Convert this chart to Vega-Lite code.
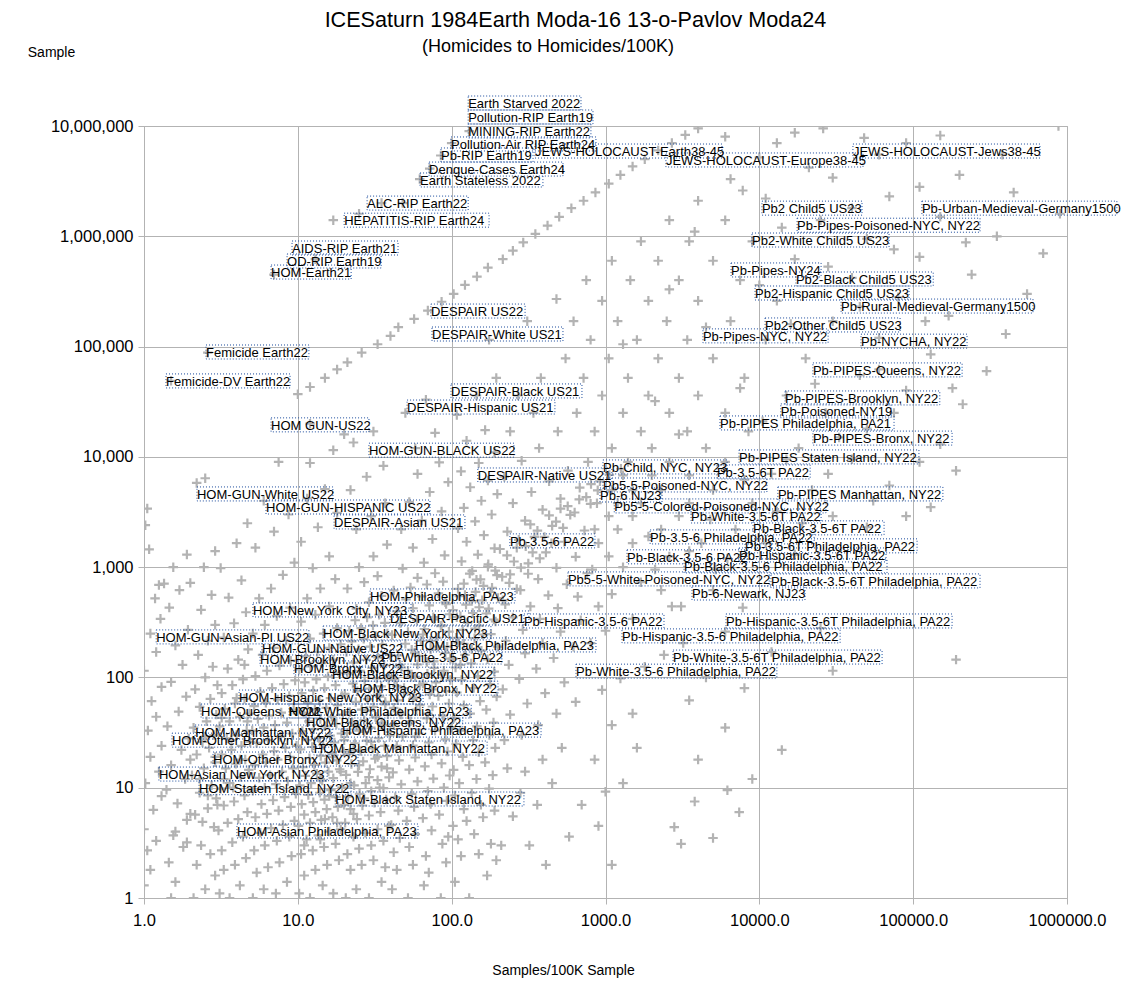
{"$schema":"https://vega.github.io/schema/vega-lite/v6.json","width":923,"height":772,"autosize":{"type":"none"},"padding":{"left":144,"top":126,"right":77,"bottom":93},"background":"white","config":{"view":{"stroke":"#b3b3b3"}},
"title":{"text":"ICESaturn 1984Earth Moda-16 13-o-Pavlov Moda24","anchor":"middle","frame":"group","dx":-30,"offset":6,"font":"Liberation Sans","fontSize":21.6,"fontWeight":"normal","color":"black"},
"datasets":{"sub":[{"label":"(Homicides to Homicides/100K)","x":423,"y":52000000}],"pts":[
{"x":1,"y":1.3},{"x":1.1,"y":1.8},{"x":1.05,"y":2.7},{"x":1.2,"y":3.3},{"x":1,"y":4.2},{"x":1.15,"y":6.3},{"x":1.3,"y":8.4},{"x":1.02,"y":11},{"x":1.25,"y":14},{"x":1.1,"y":19},{"x":1.3,"y":24},{"x":1.06,"y":33},{"x":1.2,"y":44},{"x":1.12,"y":61},{"x":1.3,"y":82},{"x":1,"y":115},{"x":1.2,"y":170},{"x":1.1,"y":250},{"x":1.28,"y":340},{"x":1.18,"y":520},{"x":1.25,"y":690},{"x":1.35,"y":710},{"x":1.02,"y":2400},{"x":1.05,"y":3400},{"x":1.08,"y":1450},
{"x":1.5,"y":1},{"x":1.6,"y":1.4},{"x":1.45,"y":2.1},{"x":1.8,"y":2.9},{"x":1.55,"y":3.7},{"x":1.9,"y":5.1},{"x":1.65,"y":7.2},{"x":1.4,"y":9.6},{"x":1.85,"y":12},{"x":1.5,"y":16},{"x":1.75,"y":22},{"x":1.95,"y":28},{"x":1.42,"y":36},{"x":1.68,"y":49},{"x":1.88,"y":67},{"x":1.5,"y":91},{"x":1.78,"y":130},{"x":1.6,"y":195},{"x":1.93,"y":270},{"x":1.46,"y":430},{"x":1.7,"y":620},{"x":1.55,"y":1000},{"x":1.9,"y":1300},{"x":2,"y":720},
{"x":2.1,"y":1},{"x":2.5,"y":1.2},{"x":2.9,"y":1.6},{"x":2.2,"y":2},{"x":2.7,"y":2.5},{"x":2.35,"y":3},{"x":2.85,"y":4.4},{"x":2.15,"y":5.7},{"x":2.6,"y":6.5},{"x":2.95,"y":8},{"x":2.3,"y":9},{"x":2.75,"y":10.5},{"x":2.05,"y":13},{"x":2.45,"y":15},{"x":2.9,"y":17},{"x":2.2,"y":20},{"x":2.65,"y":23},{"x":2.4,"y":26},{"x":2.85,"y":30},{"x":2.1,"y":35},{"x":2.55,"y":40},{"x":2.95,"y":46},{"x":2.3,"y":54},{"x":2.7,"y":64},{"x":2.15,"y":78},{"x":2.5,"y":100},{"x":2.8,"y":125},{"x":2.25,"y":160},{"x":2.6,"y":215},{"x":2.9,"y":300},{"x":2.35,"y":410},{"x":2.75,"y":560},{"x":2.45,"y":1000},{"x":2.9,"y":1400},{"x":2.2,"y":5800},{"x":2.5,"y":6400},
{"x":3.1,"y":1.1},{"x":3.6,"y":1},{"x":4.2,"y":1.3},{"x":3.3,"y":1.8},{"x":3.9,"y":2},{"x":4.6,"y":2.3},{"x":3.2,"y":2.7},{"x":3.75,"y":3.2},{"x":4.4,"y":3.6},{"x":3.05,"y":4.1},{"x":3.5,"y":4.8},{"x":4.1,"y":5.2},{"x":4.7,"y":6},{"x":3.3,"y":6.9},{"x":3.85,"y":7.5},{"x":4.5,"y":8.5},{"x":3.15,"y":9.8},{"x":3.6,"y":11},{"x":4.25,"y":12.5},{"x":4.8,"y":13.5},{"x":3.4,"y":15},{"x":3.95,"y":16.5},{"x":4.55,"y":18},{"x":3.2,"y":20},{"x":3.7,"y":22},{"x":4.3,"y":24},{"x":4.9,"y":26},{"x":3.45,"y":28},{"x":4,"y":30},{"x":4.65,"y":33},{"x":3.1,"y":36},{"x":3.6,"y":40},{"x":4.2,"y":44},{"x":4.85,"y":47},{"x":3.35,"y":52},{"x":3.9,"y":58},{"x":4.5,"y":64},{"x":3.2,"y":72},{"x":3.75,"y":85},{"x":4.4,"y":96},{"x":3.5,"y":120},{"x":4.1,"y":145},{"x":4.75,"y":180},{"x":3.3,"y":230},{"x":3.85,"y":310},{"x":4.6,"y":390},{"x":3.55,"y":530},{"x":4.3,"y":760},{"x":3.15,"y":980},{"x":4,"y":1650},{"x":4.7,"y":2500},
{"x":5.1,"y":1},{"x":6,"y":1.2},{"x":7.2,"y":1.1},{"x":8.5,"y":1.4},{"x":5.4,"y":1.7},{"x":6.4,"y":1.9},{"x":7.6,"y":2.1},{"x":9.1,"y":2.4},{"x":5.2,"y":2.7},{"x":6.1,"y":3},{"x":7.3,"y":3.3},{"x":8.8,"y":3.6},{"x":5.7,"y":3.9},{"x":6.7,"y":4.3},{"x":8,"y":4.6},{"x":9.5,"y":5},{"x":5.3,"y":5.4},{"x":6.3,"y":5.8},{"x":7.5,"y":6.2},{"x":9,"y":6.7},{"x":5.8,"y":7.1},{"x":6.9,"y":7.7},{"x":8.2,"y":8.2},{"x":9.7,"y":8.8},{"x":5.1,"y":9.4},{"x":6.1,"y":10},{"x":7.2,"y":10.8},{"x":8.6,"y":11.5},{"x":5.6,"y":12.3},{"x":6.6,"y":13},{"x":7.9,"y":14},{"x":9.3,"y":15},{"x":5.25,"y":16},{"x":6.2,"y":17},{"x":7.4,"y":18},{"x":8.9,"y":19},{"x":5.9,"y":20},{"x":7,"y":21.5},{"x":8.3,"y":23},{"x":9.8,"y":24},{"x":5.4,"y":25.5},{"x":6.4,"y":27},{"x":7.7,"y":29},{"x":9.2,"y":31},{"x":5.05,"y":33},{"x":6,"y":35},{"x":7.1,"y":37},{"x":8.5,"y":39},{"x":5.5,"y":42},{"x":6.5,"y":45},{"x":7.8,"y":48},{"x":9.4,"y":51},{"x":5.2,"y":55},{"x":6.2,"y":59},{"x":7.4,"y":63},{"x":8.8,"y":68},{"x":5.7,"y":74},{"x":6.8,"y":80},{"x":8.1,"y":87},{"x":9.6,"y":94},{"x":5.3,"y":103},{"x":6.3,"y":115},{"x":7.6,"y":128},{"x":9,"y":142},{"x":5.9,"y":160},{"x":7,"y":185},{"x":8.4,"y":215},{"x":5.1,"y":250},{"x":6.1,"y":300},{"x":7.3,"y":360},{"x":8.9,"y":430},{"x":5.6,"y":520},{"x":6.7,"y":640},{"x":8,"y":850},{"x":9.5,"y":1100},{"x":5.3,"y":1500},{"x":7,"y":2100},{"x":8.7,"y":3000},{"x":6,"y":4000},{"x":7.5,"y":9000},
{"x":10.2,"y":1.1},{"x":12,"y":1},{"x":14.5,"y":1.3},{"x":17,"y":1.1},{"x":11,"y":1.6},{"x":13,"y":1.8},{"x":15.5,"y":2},{"x":18.5,"y":2.2},{"x":10.5,"y":2.5},{"x":12.5,"y":2.7},{"x":14.8,"y":2.9},{"x":17.6,"y":3.1},{"x":11.4,"y":3.4},{"x":13.6,"y":3.7},{"x":16,"y":4},{"x":19,"y":4.2},{"x":10.1,"y":4.5},{"x":12,"y":4.8},{"x":14.2,"y":5.1},{"x":16.8,"y":5.4},{"x":11,"y":5.7},{"x":13,"y":6},{"x":15.4,"y":6.4},{"x":18.2,"y":6.7},{"x":10.6,"y":7.1},{"x":12.6,"y":7.4},{"x":14.9,"y":7.8},{"x":17.7,"y":8.2},{"x":11.7,"y":8.6},{"x":13.9,"y":9},{"x":16.4,"y":9.5},{"x":19.4,"y":10},{"x":10.3,"y":10.5},{"x":12.2,"y":11},{"x":14.4,"y":11.6},{"x":17,"y":12.2},{"x":11.2,"y":12.8},{"x":13.3,"y":13.4},{"x":15.8,"y":14},{"x":18.7,"y":14.7},{"x":10.8,"y":15.4},{"x":12.8,"y":16.1},{"x":15.1,"y":16.9},{"x":17.9,"y":17.7},{"x":11.9,"y":18.5},{"x":14.1,"y":19.4},{"x":16.7,"y":20.3},{"x":19.8,"y":21.3},{"x":10.4,"y":22.3},{"x":12.4,"y":23.4},{"x":14.6,"y":24.5},{"x":17.3,"y":25.7},{"x":11.5,"y":27},{"x":13.7,"y":28.3},{"x":16.2,"y":29.7},{"x":19.2,"y":31},{"x":10.7,"y":32.6},{"x":12.7,"y":34},{"x":15,"y":36},{"x":17.8,"y":38},{"x":11.8,"y":40},{"x":14,"y":42},{"x":16.6,"y":44},{"x":19.6,"y":46},{"x":10.9,"y":48},{"x":12.9,"y":51},{"x":15.3,"y":53},{"x":18.1,"y":56},{"x":11.6,"y":59},{"x":13.8,"y":62},{"x":16.3,"y":65},{"x":19.3,"y":68},{"x":10.6,"y":72},{"x":12.6,"y":76},{"x":14.9,"y":80},{"x":17.6,"y":85},{"x":11.1,"y":90},{"x":13.2,"y":96},{"x":15.7,"y":102},{"x":18.6,"y":110},{"x":10.2,"y":118},{"x":12.1,"y":126},{"x":14.3,"y":135},{"x":17,"y":145},{"x":11.3,"y":156},{"x":13.4,"y":170},{"x":16,"y":185},{"x":19,"y":200},{"x":12,"y":225},{"x":14.7,"y":250},{"x":18,"y":280},{"x":10.5,"y":320},{"x":13,"y":370},{"x":16,"y":440},{"x":11.5,"y":520},{"x":14,"y":640},{"x":17.5,"y":780},{"x":12.5,"y":980},{"x":16,"y":1250},{"x":10.5,"y":1700},{"x":13.5,"y":2300},{"x":18,"y":3100},{"x":11.5,"y":4200},{"x":15,"y":5100},{"x":12,"y":8800},{"x":17,"y":11500},{"x":12,"y":20000},{"x":20,"y":16000},
{"x":20.5,"y":1},{"x":24,"y":1.2},{"x":29,"y":1},{"x":35,"y":1.4},{"x":22,"y":1.8},{"x":26,"y":2},{"x":31,"y":2.2},{"x":37,"y":1.9},{"x":21,"y":2.5},{"x":25,"y":2.8},{"x":30,"y":3},{"x":36,"y":3.3},{"x":23,"y":3.6},{"x":27.5,"y":3.9},{"x":33,"y":4.2},{"x":39,"y":4.5},{"x":20.3,"y":4.8},{"x":24.2,"y":5.2},{"x":29,"y":5.6},{"x":34.5,"y":6},{"x":22,"y":6.4},{"x":26.3,"y":6.9},{"x":31.5,"y":7.3},{"x":37.5,"y":7.8},{"x":21.2,"y":8.3},{"x":25.2,"y":8.8},{"x":30,"y":9.3},{"x":36,"y":9.9},{"x":23.2,"y":10.5},{"x":27.6,"y":11},{"x":33,"y":11.7},{"x":39.2,"y":12.4},{"x":20.6,"y":13.1},{"x":24.6,"y":13.9},{"x":29.4,"y":14.7},{"x":35,"y":15.5},{"x":22.3,"y":16.4},{"x":26.6,"y":17.3},{"x":31.8,"y":18.3},{"x":38,"y":19.3},{"x":21.5,"y":20.4},{"x":25.6,"y":21.5},{"x":30.6,"y":22.7},{"x":36.6,"y":24},{"x":23.5,"y":25.3},{"x":28,"y":26.7},{"x":33.5,"y":28.2},{"x":39.6,"y":29.8},{"x":20.9,"y":31.4},{"x":25,"y":33},{"x":29.8,"y":35},{"x":35.5,"y":37},{"x":22.6,"y":39},{"x":27,"y":41},{"x":32.2,"y":43.5},{"x":38.5,"y":46},{"x":21.8,"y":48.5},{"x":26,"y":51},{"x":31,"y":54},{"x":37,"y":57},{"x":23.8,"y":60},{"x":28.4,"y":63.5},{"x":34,"y":67},{"x":20.2,"y":71},{"x":24.4,"y":75},{"x":29.2,"y":79},{"x":34.8,"y":83},{"x":22.8,"y":88},{"x":27.2,"y":93},{"x":32.6,"y":98},{"x":39,"y":103},{"x":21,"y":109},{"x":25.4,"y":115},{"x":30.4,"y":122},{"x":36.4,"y":129},{"x":23,"y":136},{"x":27.8,"y":144},{"x":33.2,"y":152},{"x":39.8,"y":160},{"x":20.7,"y":170},{"x":24.8,"y":180},{"x":29.6,"y":190},{"x":35.4,"y":200},{"x":22.4,"y":212},{"x":26.8,"y":224},{"x":32,"y":237},{"x":38.2,"y":250},{"x":21.6,"y":265},{"x":25.8,"y":280},{"x":30.8,"y":296},{"x":36.8,"y":313},{"x":23.6,"y":330},{"x":28.2,"y":350},{"x":33.8,"y":370},{"x":24,"y":420},{"x":29,"y":480},{"x":35,"y":550},{"x":21,"y":640},{"x":27,"y":730},{"x":33,"y":830},{"x":25,"y":1000},{"x":31,"y":1250},{"x":38,"y":1600},{"x":24,"y":2200},{"x":30,"y":2900},{"x":37,"y":3800},{"x":22,"y":5000},{"x":28,"y":6600},{"x":36,"y":8300},{"x":23,"y":13500},{"x":31,"y":17000},{"x":26,"y":88000},{"x":21,"y":72000},
{"x":41,"y":1.2},{"x":52,"y":1},{"x":66,"y":1.3},{"x":85,"y":1},{"x":44,"y":1.8},{"x":56,"y":2},{"x":71,"y":1.7},{"x":92,"y":2.1},{"x":42,"y":2.6},{"x":53,"y":2.9},{"x":68,"y":2.4},{"x":87,"y":3.1},{"x":46,"y":3.5},{"x":58,"y":3.8},{"x":74,"y":4.1},{"x":95,"y":3.6},{"x":40.5,"y":4.6},{"x":51,"y":5},{"x":65,"y":5.3},{"x":83,"y":5.7},{"x":45,"y":6.2},{"x":57,"y":6.7},{"x":73,"y":7.1},{"x":93,"y":7.6},{"x":43,"y":8.2},{"x":55,"y":8.8},{"x":70,"y":9.3},{"x":89,"y":10},{"x":47,"y":10.7},{"x":60,"y":11.4},{"x":76,"y":12.1},{"x":97,"y":12.9},{"x":41.5,"y":13.8},{"x":53,"y":14.6},{"x":67,"y":15.6},{"x":86,"y":16.6},{"x":45.5,"y":17.7},{"x":58,"y":18.8},{"x":74,"y":20},{"x":94,"y":21.3},{"x":44,"y":22.7},{"x":56,"y":24.1},{"x":71,"y":25.7},{"x":91,"y":27.4},{"x":48,"y":29.1},{"x":61,"y":31},{"x":78,"y":33},{"x":99,"y":35},{"x":42,"y":37.5},{"x":54,"y":40},{"x":69,"y":42.5},{"x":88,"y":45},{"x":46,"y":48},{"x":59,"y":51},{"x":75,"y":54.5},{"x":96,"y":58},{"x":44.5,"y":62},{"x":57,"y":66},{"x":72,"y":70},{"x":92,"y":75},{"x":49,"y":80},{"x":62,"y":85},{"x":79,"y":90},{"x":42.5,"y":96},{"x":54.5,"y":102},{"x":69.5,"y":108},{"x":89,"y":115},{"x":47,"y":123},{"x":60,"y":131},{"x":76.5,"y":140},{"x":98,"y":148},{"x":45,"y":158},{"x":57.5,"y":168},{"x":73,"y":179},{"x":93.5,"y":190},{"x":50,"y":202},{"x":63,"y":215},{"x":80,"y":229},{"x":41,"y":243},{"x":52,"y":258},{"x":66.5,"y":275},{"x":85,"y":292},{"x":46.5,"y":311},{"x":59.5,"y":331},{"x":76,"y":352},{"x":97,"y":374},{"x":44,"y":398},{"x":56,"y":424},{"x":71.5,"y":451},{"x":91,"y":480},{"x":50.5,"y":511},{"x":64,"y":543},{"x":82,"y":578},{"x":42,"y":615},{"x":54,"y":654},{"x":69,"y":696},{"x":88,"y":740},{"x":60,"y":800},{"x":78,"y":880},{"x":48,"y":970},{"x":66,"y":1100},{"x":90,"y":1280},{"x":56,"y":1500},{"x":75,"y":1800},{"x":47,"y":2200},{"x":64,"y":2650},{"x":86,"y":3200},{"x":53,"y":3900},{"x":72,"y":4800},{"x":95,"y":5900},{"x":60,"y":7000},{"x":83,"y":8900},{"x":58,"y":12000},{"x":78,"y":16500},{"x":50,"y":25000},{"x":68,"y":33000},{"x":45,"y":150000},{"x":57,"y":178000},{"x":70,"y":212000},{"x":86,"y":255000},
{"x":105,"y":1.4},{"x":130,"y":1},{"x":170,"y":1.6},{"x":115,"y":2.4},{"x":150,"y":2.5},{"x":195,"y":2.2},{"x":110,"y":3.4},{"x":140,"y":3.8},{"x":180,"y":3.1},{"x":102,"y":4.5},{"x":125,"y":5},{"x":160,"y":5.4},{"x":120,"y":6.4},{"x":155,"y":7},{"x":190,"y":6.2},{"x":105,"y":8.5},{"x":135,"y":9},{"x":175,"y":9.8},{"x":112,"y":11},{"x":145,"y":12},{"x":185,"y":13},{"x":103,"y":14.5},{"x":130,"y":16},{"x":165,"y":17},{"x":118,"y":19},{"x":150,"y":21},{"x":192,"y":23},{"x":107,"y":25},{"x":138,"y":27},{"x":176,"y":30},{"x":114,"y":33},{"x":146,"y":36},{"x":187,"y":39},{"x":104,"y":43},{"x":132,"y":47},{"x":168,"y":51},{"x":120,"y":56},{"x":153,"y":61},{"x":196,"y":67},{"x":108,"y":73},{"x":139,"y":80},{"x":178,"y":87},{"x":116,"y":95},{"x":148,"y":103},{"x":189,"y":113},{"x":106,"y":123},{"x":134,"y":134},{"x":171,"y":146},{"x":122,"y":160},{"x":156,"y":175},{"x":199,"y":190},{"x":110,"y":208},{"x":141,"y":227},{"x":180,"y":247},{"x":118,"y":270},{"x":151,"y":295},{"x":193,"y":322},{"x":108,"y":352},{"x":137,"y":384},{"x":174,"y":420},{"x":124,"y":458},{"x":158,"y":500},{"x":112,"y":546},{"x":143,"y":596},{"x":183,"y":650},{"x":120,"y":710},{"x":154,"y":775},{"x":197,"y":846},{"x":136,"y":925},{"x":172,"y":1010},{"x":116,"y":1130},{"x":148,"y":1300},{"x":190,"y":1480},{"x":125,"y":1700},{"x":162,"y":1950},{"x":110,"y":2250},{"x":142,"y":2600},{"x":182,"y":3000},{"x":120,"y":3450},{"x":156,"y":4000},{"x":198,"y":4600},{"x":132,"y":5300},{"x":172,"y":6100},{"x":115,"y":7400},{"x":150,"y":8800},{"x":190,"y":11000},{"x":125,"y":14000},{"x":165,"y":17500},{"x":108,"y":24000},{"x":145,"y":36000},{"x":195,"y":52000},{"x":175,"y":115000},{"x":103,"y":300000},{"x":122,"y":362000},{"x":146,"y":431000},{"x":172,"y":520000},
{"x":210,"y":3},{"x":250,"y":5.5},{"x":320,"y":3},{"x":410,"y":2},{"x":280,"y":9},{"x":360,"y":7},{"x":450,"y":11},{"x":230,"y":15},{"x":300,"y":14},{"x":390,"y":18},{"x":520,"y":23},{"x":220,"y":27},{"x":285,"y":30},{"x":365,"y":37},{"x":480,"y":47},{"x":640,"y":60},{"x":240,"y":46},{"x":310,"y":58},{"x":405,"y":72},{"x":540,"y":90},{"x":215,"y":78},{"x":275,"y":97},{"x":355,"y":120},{"x":460,"y":150},{"x":620,"y":190},{"x":235,"y":130},{"x":300,"y":165},{"x":390,"y":205},{"x":510,"y":260},{"x":690,"y":330},{"x":225,"y":215},{"x":290,"y":270},{"x":375,"y":340},{"x":490,"y":425},{"x":660,"y":540},{"x":250,"y":350},{"x":325,"y":440},{"x":425,"y":555},{"x":560,"y":700},{"x":760,"y":880},{"x":215,"y":500},{"x":280,"y":620},{"x":365,"y":780},{"x":480,"y":985},{"x":640,"y":1240},{"x":240,"y":860},{"x":315,"y":1080},{"x":410,"y":1360},{"x":540,"y":1700},{"x":730,"y":2150},{"x":265,"y":1500},{"x":345,"y":1880},{"x":450,"y":2370},{"x":590,"y":2980},{"x":800,"y":3750},{"x":230,"y":2100},{"x":300,"y":2640},{"x":390,"y":3320},{"x":510,"y":4180},{"x":680,"y":5250},{"x":920,"y":6000},{"x":250,"y":3800},{"x":330,"y":4800},{"x":430,"y":6000},{"x":570,"y":7500},{"x":770,"y":9000},{"x":220,"y":6600},{"x":285,"y":9200},{"x":370,"y":12000},{"x":490,"y":17000},{"x":650,"y":25000},{"x":240,"y":17000},{"x":340,"y":25000},{"x":270,"y":36000},{"x":380,"y":52000},{"x":550,"y":78000},{"x":310,"y":170000},{"x":215,"y":620000},{"x":250,"y":740000},{"x":292,"y":880000},{"x":350,"y":1050000},{"x":420,"y":1250000},{"x":500,"y":1500000},{"x":600,"y":1800000},{"x":480,"y":270000},{"x":750,"y":400000},{"x":620,"y":170000},
{"x":580,"y":3.6},{"x":1100,"y":2},{"x":900,"y":4.5},{"x":700,"y":7},{"x":1000,"y":9.2},{"x":1300,"y":11},{"x":850,"y":18},{"x":1600,"y":23},{"x":1100,"y":37},{"x":1500,"y":47},{"x":950,"y":77},{"x":1250,"y":98},{"x":1800,"y":125},{"x":2400,"y":160},{"x":800,"y":205},{"x":1000,"y":265},{"x":1500,"y":340},{"x":900,"y":440},{"x":2700,"y":440},{"x":1100,"y":570},{"x":1700,"y":730},{"x":820,"y":950},{"x":2100,"y":950},{"x":1050,"y":1250},{"x":2600,"y":1250},{"x":900,"y":1650},{"x":1500,"y":1650},{"x":850,"y":2200},{"x":1200,"y":2200},{"x":2300,"y":2200},{"x":1050,"y":2900},{"x":1500,"y":2900},{"x":880,"y":3800},{"x":1200,"y":3800},{"x":1700,"y":3800},{"x":1100,"y":5000},{"x":1500,"y":5000},{"x":2300,"y":5000},{"x":1300,"y":6800},{"x":2000,"y":6800},{"x":1400,"y":9000},{"x":2600,"y":9000},{"x":1100,"y":12000},{"x":2000,"y":12000},{"x":850,"y":17000},{"x":1700,"y":17000},{"x":3400,"y":17000},{"x":1300,"y":25000},{"x":2600,"y":25000},{"x":950,"y":36000},{"x":1900,"y":36000},{"x":720,"y":52000},{"x":1400,"y":52000},{"x":3000,"y":52000},{"x":1050,"y":78000},{"x":2200,"y":78000},{"x":800,"y":115000},{"x":1600,"y":115000},{"x":1200,"y":170000},{"x":2500,"y":170000},{"x":950,"y":260000},{"x":1900,"y":260000},{"x":1450,"y":400000},{"x":3000,"y":400000},{"x":1100,"y":600000},{"x":2200,"y":600000},{"x":1700,"y":900000},{"x":3500,"y":900000},{"x":2600,"y":1400000},{"x":720,"y":2100000},{"x":860,"y":2500000},{"x":1050,"y":3000000},{"x":1250,"y":3600000},{"x":1500,"y":4300000},{"x":1800,"y":5000000},{"x":2200,"y":6000000},{"x":2700,"y":7000000},{"x":3300,"y":8300000},{"x":4000,"y":9500000},
{"x":3100,"y":3.1},{"x":5000,"y":3.5},{"x":2800,"y":4.4},{"x":7400,"y":6},{"x":3800,"y":7.5},{"x":6200,"y":9.5},{"x":9000,"y":12},{"x":4000,"y":18},{"x":14000,"y":22},{"x":6000,"y":35},{"x":3500,"y":62},{"x":8000,"y":80},{"x":4500,"y":100},{"x":30000,"y":115},{"x":190000,"y":145},{"x":12000,"y":170},{"x":3200,"y":205},{"x":6000,"y":260},{"x":25000,"y":280},{"x":5200,"y":950},{"x":17000,"y":1300},{"x":4200,"y":1650},{"x":11000,"y":1650},{"x":7000,"y":2200},{"x":50000,"y":2300},{"x":3000,"y":2900},{"x":30000,"y":2900},{"x":90000,"y":2900},{"x":3500,"y":3800},{"x":9000,"y":3800},{"x":130000,"y":3500},{"x":5000,"y":5000},{"x":22000,"y":5000},{"x":70000,"y":5500},{"x":3500,"y":6800},{"x":12000,"y":7000},{"x":190000,"y":7500},{"x":6000,"y":9000},{"x":40000,"y":9500},{"x":4500,"y":12000},{"x":18000,"y":12000},{"x":150000,"y":13000},{"x":8500,"y":17000},{"x":50000,"y":18000},{"x":6000,"y":25000},{"x":27000,"y":25000},{"x":210000,"y":30000},{"x":4000,"y":36000},{"x":15000,"y":36000},{"x":90000,"y":40000},{"x":8000,"y":52000},{"x":45000,"y":55000},{"x":300000,"y":60000},{"x":5000,"y":78000},{"x":20000,"y":78000},{"x":130000,"y":85000},{"x":3400,"y":115000},{"x":11000,"y":115000},{"x":60000,"y":120000},{"x":400000,"y":130000},{"x":6500,"y":170000},{"x":30000,"y":170000},{"x":170000,"y":190000},{"x":4000,"y":260000},{"x":13000,"y":260000},{"x":80000,"y":280000},{"x":550000,"y":300000},{"x":7500,"y":400000},{"x":40000,"y":420000},{"x":240000,"y":450000},{"x":5000,"y":600000},{"x":17000,"y":620000},{"x":110000,"y":650000},{"x":700000,"y":700000},{"x":9000,"y":900000},{"x":50000,"y":950000},{"x":350000,"y":1000000},{"x":6000,"y":1400000},{"x":25000,"y":1400000},{"x":150000,"y":1500000},{"x":900000,"y":1600000},{"x":4000,"y":2100000},{"x":11000,"y":2200000},{"x":70000,"y":2300000},{"x":450000,"y":2500000},{"x":6500,"y":3300000},{"x":30000,"y":3400000},{"x":200000,"y":3600000},{"x":10000,"y":5200000},{"x":13000,"y":7000000},{"x":17000,"y":8700000},{"x":60000,"y":5500000},{"x":90000,"y":7000000},{"x":380000,"y":5500000},{"x":880000,"y":10000000},
{"x":7,"y":450000},{"x":13,"y":620000},{"x":17,"y":1400000},{"x":25,"y":1600000},{"x":35,"y":2000000},{"x":48,"y":2000000},{"x":62,"y":3300000},{"x":72,"y":4100000},{"x":85,"y":5400000},{"x":100,"y":7000000},{"x":130,"y":9000000},{"x":2.6,"y":88000},{"x":1.5,"y":49000},{"x":10,"y":37000},{"x":12,"y":43000},{"x":15,"y":52000},{"x":18,"y":62000},{"x":33,"y":105000},{"x":40,"y":125000},
{"x":11,"y":3},{"x":14,"y":3.4},{"x":18,"y":4.8},{"x":23,"y":5.8},{"x":15,"y":5.2},{"x":20,"y":7},{"x":27,"y":8},{"x":34,"y":10},{"x":16,"y":8.4},{"x":22,"y":11},{"x":29,"y":12.5},{"x":38,"y":15},{"x":14,"y":12},{"x":19,"y":14},{"x":25,"y":16},{"x":33,"y":19},{"x":44,"y":24},{"x":58,"y":29},{"x":17,"y":19},{"x":23,"y":22},{"x":30,"y":26},{"x":40,"y":32},{"x":53,"y":38},{"x":70,"y":47},{"x":20,"y":27},{"x":27,"y":32},{"x":35,"y":39},{"x":47,"y":46},{"x":62,"y":56},{"x":82,"y":68},{"x":24,"y":37},{"x":32,"y":44},{"x":42,"y":53},{"x":56,"y":64},{"x":74,"y":78},{"x":98,"y":95},{"x":28,"y":50},{"x":37,"y":60},{"x":49,"y":73},{"x":65,"y":88},{"x":86,"y":106},{"x":114,"y":130},{"x":33,"y":70},{"x":44,"y":84},{"x":58,"y":101},{"x":77,"y":122},{"x":102,"y":148},{"x":135,"y":180},{"x":39,"y":95},{"x":52,"y":115},{"x":69,"y":138},{"x":91,"y":167},{"x":120,"y":202},{"x":160,"y":245},{"x":46,"y":130},{"x":61,"y":157},{"x":81,"y":190},{"x":107,"y":229},{"x":142,"y":277},{"x":188,"y":335},{"x":55,"y":178},{"x":73,"y":215},{"x":96,"y":260},{"x":127,"y":314},{"x":168,"y":380},{"x":223,"y":460},{"x":65,"y":245},{"x":86,"y":296},{"x":114,"y":358},{"x":151,"y":433},{"x":200,"y":524},{"x":265,"y":634},{"x":77,"y":336},{"x":102,"y":407},{"x":135,"y":492},{"x":179,"y":595},{"x":237,"y":720},{"x":314,"y":871},{"x":92,"y":462},{"x":122,"y":559},{"x":161,"y":676},{"x":213,"y":818},{"x":282,"y":990},{"x":374,"y":1200},{"x":110,"y":636},{"x":145,"y":770},{"x":192,"y":930},{"x":254,"y":1125},{"x":336,"y":1360},{"x":445,"y":1650},{"x":131,"y":875},{"x":173,"y":1060},{"x":229,"y":1280},{"x":303,"y":1550},{"x":401,"y":1880},{"x":530,"y":2270},{"x":206,"y":1460},{"x":273,"y":1770},{"x":361,"y":2140},{"x":477,"y":2590},{"x":630,"y":3130},{"x":325,"y":2440},{"x":430,"y":2950},{"x":568,"y":3570},{"x":750,"y":4320},{"x":510,"y":3400},{"x":675,"y":4110},{"x":890,"y":4970},{"x":805,"y":5670},{"x":1060,"y":6860},{"x":1260,"y":7800},
{"x":1.9,"y":3.2},{"x":2.4,"y":4.9},{"x":3,"y":7},{"x":3.8,"y":10},{"x":4.8,"y":14.5},{"x":1.6,"y":4},{"x":2,"y":5.8},{"x":2.6,"y":8.5},{"x":3.3,"y":12},{"x":4.2,"y":18},{"x":2.3,"y":12},{"x":2.9,"y":19},{"x":3.7,"y":27},{"x":4.7,"y":40},{"x":2,"y":18},{"x":2.5,"y":29},{"x":3.2,"y":43},{"x":4,"y":65},{"x":3,"y":85},{"x":4.5,"y":130},
{"x":2300,"y":620},{"x":3100,"y":440},{"x":5000,"y":620},{"x":7800,"y":430},{"x":1300,"y":1000},{"x":3500,"y":1400},{"x":6200,"y":1200},{"x":1900,"y":1900},{"x":4800,"y":2700},{"x":13000,"y":3200},{"x":19000,"y":2500},{"x":8000,"y":6200},{"x":15000,"y":9500},{"x":28000,"y":7000},{"x":55000,"y":4000},{"x":110000,"y":9000},{"x":3000,"y":16000},{"x":10500,"y":21000},{"x":33000,"y":15000},{"x":75000,"y":25000},{"x":2100,"y":32000},{"x":7500,"y":42000},{"x":23000,"y":46000},{"x":60000,"y":62000},{"x":180000,"y":42000},{"x":1300,"y":105000},{"x":4500,"y":150000},{"x":16000,"y":160000},{"x":45000,"y":230000},{"x":120000,"y":170000},{"x":2600,"y":330000},{"x":10000,"y":360000},{"x":28000,"y":530000},{"x":75000,"y":760000},{"x":220000,"y":880000},{"x":3800,"y":1100000},{"x":14000,"y":1200000},{"x":40000,"y":1800000},{"x":110000,"y":2800000},{"x":7800,"y":2600000},{"x":21000,"y":4200000},{"x":48000,"y":7800000},{"x":150000,"y":8200000},{"x":6000,"y":8000000},{"x":26000,"y":9500000}
],"lab":[
{"label":"Earth Starved 2022","x":128,"xEnd":693,"y":16160000},
{"label":"Pollution-RIP Earth19","x":128,"xEnd":829,"y":12070000},
{"label":"MINING-RIP Earth22","x":128,"xEnd":804,"y":9010000},
{"label":"Pollution-Air RIP Earth24","x":99,"xEnd":867,"y":6870000},
{"label":"JEWS-HOLOCAUST-Earth38-45","x":348,"xEnd":5720,"y":5930000},
{"label":"Pb-RIP Earth19","x":85.2,"xEnd":338,"y":5460000},
{"label":"JEWS-HOLOCAUST-Europe38-45","x":2470,"xEnd":47200,"y":4920000},
{"label":"JEWS-HOLOCAUST-Jews38-45","x":40600,"xEnd":667000,"y":5930000},
{"label":"Dengue-Cases Earth24","x":71.3,"xEnd":529,"y":4070000},
{"label":"Earth Stateless 2022","x":62.3,"xEnd":392,"y":3240000},
{"label":"ALC-RIP Earth22","x":28.2,"xEnd":128,"y":2000000},
{"label":"Pb2 Child5 US23","x":10400,"xEnd":46500,"y":1800000},
{"label":"Pb-Urban-Medieval-Germany1500","x":114000,"xEnd":2110000,"y":1800000},
{"label":"HEPATITIS-RIP Earth24","x":20,"xEnd":175,"y":1400000},
{"label":"Pb-Pipes-Poisoned-NYC, NY22","x":17600,"xEnd":272000,"y":1260000},
{"label":"Pb2-White Child5 US23","x":8960,"xEnd":69700,"y":925000},
{"label":"AIDS-RIP Earth21","x":9.17,"xEnd":44.8,"y":783000},
{"label":"OD-RIP Earth19","x":8.51,"xEnd":34.8,"y":597000},
{"label":"HOM-Earth21","x":6.7,"xEnd":22.2,"y":474000},
{"label":"Pb-Pipes-NY24","x":6550,"xEnd":25200,"y":495000},
{"label":"Pb2-Black Child5 US23","x":17300,"xEnd":135000,"y":410000},
{"label":"Pb2-Hispanic Child5 US23","x":9380,"xEnd":94000,"y":306000},
{"label":"Pb-Rural-Medieval-Germany1500","x":34000,"xEnd":601000,"y":233000},
{"label":"DESPAIR US22","x":73.3,"xEnd":300,"y":210000},
{"label":"Pb2-Other Child5 US23","x":10900,"xEnd":82200,"y":157000},
{"label":"DESPAIR-White US21","x":74.5,"xEnd":529,"y":130000},
{"label":"Pb-Pipes-NYC, NY22","x":4300,"xEnd":28000,"y":125000},
{"label":"Pb-NYCHA, NY22","x":45800,"xEnd":224000,"y":112000},
{"label":"Femicide Earth22","x":2.53,"xEnd":11.8,"y":89300},
{"label":"Pb-PIPES-Queens, NY22","x":22300,"xEnd":208000,"y":61400},
{"label":"Femicide-DV Earth22","x":1.39,"xEnd":8.9,"y":48800},
{"label":"DESPAIR-Black US21","x":99,"xEnd":703,"y":39600},
{"label":"Pb-PIPES-Brooklyn, NY22","x":14700,"xEnd":149000,"y":34200},
{"label":"DESPAIR-Hispanic US21","x":51.3,"xEnd":469,"y":28300},
{"label":"Pb-Poisoned-NY19","x":13800,"xEnd":71800,"y":26100},
{"label":"HOM GUN-US22","x":6.7,"xEnd":29,"y":19500},
{"label":"Pb-PIPES Philadelphia, PA21","x":5550,"xEnd":75100,"y":20300},
{"label":"Pb-PIPES-Bronx, NY22","x":22300,"xEnd":179000,"y":14800},
{"label":"HOM-GUN-BLACK US22","x":29,"xEnd":254,"y":11500},
{"label":"Pb-PIPES Staten Island, NY22","x":7380,"xEnd":109000,"y":9980},
{"label":"Pb-Child, NYC, NY23","x":963,"xEnd":6170,"y":8100},
{"label":"Pb-3.5-6T PA22","x":5300,"xEnd":21400,"y":7300},
{"label":"DESPAIR-Native US21","x":148,"xEnd":1100,"y":6850},
{"label":"Pb5-5-Poisoned-NYC, NY22","x":963,"xEnd":11200,"y":5560},
{"label":"Pb-6 NJ23","x":921,"xEnd":2330,"y":4510},
{"label":"HOM-GUN-White US22","x":2.21,"xEnd":16.9,"y":4610},
{"label":"Pb-PIPES Manhattan, NY22","x":13200,"xEnd":156000,"y":4610},
{"label":"HOM-GUN-HISPANIC US22","x":6.21,"xEnd":72.3,"y":3510},
{"label":"Pb5-5-Colored-Poisoned-NYC, NY22","x":1140,"xEnd":27100,"y":3590},
{"label":"Pb-White-3.5-6T PA22","x":3600,"xEnd":25200,"y":2910},
{"label":"DESPAIR-Asian US21","x":17.2,"xEnd":122,"y":2570},
{"label":"Pb-Black-3.5-6T PA22","x":9100,"xEnd":64700,"y":2270},
{"label":"Pb-3.5-6 Philadelphia, PA22","x":1950,"xEnd":22700,"y":1880},
{"label":"Pb-3.5-6 PA22","x":239,"xEnd":854,"y":1730},
{"label":"Pb-3.5-6T Philadelphia, PA22","x":8070,"xEnd":106000,"y":1560},
{"label":"Pb-Black-3.5-6 PA22","x":1380,"xEnd":8320,"y":1240},
{"label":"Pb-Hispanic-3.5-6T PA22","x":7380,"xEnd":66600,"y":1290},
{"label":"Pb-Black-3.5-6 Philadelphia, PA22","x":3240,"xEnd":67600,"y":1026},
{"label":"Pb5-5-White-Poisoned-NYC, NY22","x":570,"xEnd":11600,"y":782},
{"label":"Pb-Black-3.5-6T Philadelphia, PA22","x":11900,"xEnd":272000,"y":750},
{"label":"Pb-6-Newark, NJ23","x":3650,"xEnd":19800,"y":583},
{"label":"HOM-Philadelphia, PA23","x":29.5,"xEnd":258,"y":548},
{"label":"HOM-New York City, NY23","x":5.11,"xEnd":54.4,"y":409},
{"label":"DESPAIR-Pacific US21","x":39.7,"xEnd":318,"y":346},
{"label":"Pb-Hispanic-3.5-6 PA22","x":295,"xEnd":2400,"y":325},
{"label":"Pb-Hispanic-3.5-6T Philadelphia, PA22","x":6070,"xEnd":179000,"y":325},
{"label":"HOM-Black New York, NY23","x":14.6,"xEnd":180,"y":253},
{"label":"HOM-GUN-Asian-PI US22","x":1.2,"xEnd":11.8,"y":233},
{"label":"Pb-Hispanic-3.5-6 Philadelphia, PA22","x":1280,"xEnd":33500,"y":238},
{"label":"HOM-Black Philadelphia, PA23","x":57.8,"xEnd":867,"y":197},
{"label":"HOM-GUN-Native US22","x":5.85,"xEnd":46.9,"y":185},
{"label":"HOM-Brooklyn, NY22","x":5.68,"xEnd":36.3,"y":147},
{"label":"Pb-White-3.5-6 PA22","x":34.8,"xEnd":212,"y":153},
{"label":"Pb-White-3.5-6T Philadelphia, PA22","x":2750,"xEnd":62800,"y":153},
{"label":"HOM-Bronx, NY22","x":9.44,"xEnd":47.6,"y":122},
{"label":"Pb-White-3.5-6 Philadelphia, PA22","x":643,"xEnd":13000,"y":114},
{"label":"HOM-Black-Brooklyn, NY22","x":16.7,"xEnd":191,"y":107},
{"label":"HOM-Black Bronx, NY22","x":22.9,"xEnd":200,"y":80},
{"label":"HOM-Hispanic New York, NY23","x":4.15,"xEnd":65.2,"y":66.4},
{"label":"HOM-Queens, NY22","x":2.35,"xEnd":13.9,"y":49.6},
{"label":"HOM-White Philadelphia, PA23","x":8.77,"xEnd":134,"y":49.6},
{"label":"HOM-Black Queens, NY22","x":11.3,"xEnd":118,"y":39.4},
{"label":"HOM-Manhattan, NY22","x":2.15,"xEnd":16.7,"y":32},
{"label":"HOM-Hispanic Philadelphia, PA23","x":19.4,"xEnd":381,"y":33.3},
{"label":"HOM-Other Brooklyn, NY22","x":1.52,"xEnd":16.7,"y":27},
{"label":"HOM-Black Manhattan, NY22","x":12.7,"xEnd":170,"y":22.9},
{"label":"HOM-Other Bronx, NY22","x":2.81,"xEnd":24.6,"y":18.2},
{"label":"HOM-Asian New York, NY23","x":1.25,"xEnd":15.5,"y":13.3},
{"label":"HOM-Staten Island, NY22","x":2.28,"xEnd":22.2,"y":10},
{"label":"HOM-Black Staten Island, NY22","x":17.5,"xEnd":295,"y":7.9},
{"label":"HOM-Asian Philadelphia, PA23","x":4.02,"xEnd":60.4,"y":4.05}
]},
"layer":[
{"data":{"name":"pts"},"mark":{"type":"point","shape":"M-1,0H1M0,-1V1","filled":false,"size":90,"stroke":"#b3b3b3","strokeWidth":2.2,"opacity":1,"clip":true},
"encoding":{"x":{"field":"x","type":"quantitative","scale":{"type":"log","domain":[1,1000000],"nice":false},"axis":{"values":[1,10,100,1000,10000,100000,1000000],"format":".1f","grid":true,"gridColor":"#b3b3b3","gridOpacity":1,"domainColor":"#b3b3b3","tickColor":"#b3b3b3","tickSize":6,"labelFont":"Liberation Sans","labelFontSize":16.5,"labelColor":"black","labelPadding":8,"labelFlush":false,"labelOverlap":false,"title":"Samples/100K Sample","titleFont":"Liberation Sans","titleFontSize":14,"titleFontWeight":"normal","titleColor":"black","titleX":419,"titleY":65}},
"y":{"field":"y","type":"quantitative","scale":{"type":"log","domain":[1,10000000],"nice":false},"axis":{"values":[1,10,100,1000,10000,100000,1000000,10000000],"format":",","grid":true,"gridColor":"#b3b3b3","gridOpacity":1,"domainColor":"#b3b3b3","tickColor":"#b3b3b3","tickSize":6,"labelFont":"Liberation Sans","labelFontSize":16.5,"labelColor":"black","labelPadding":5,"labelOverlap":false,"title":"Sample","titleFont":"Liberation Sans","titleFontSize":14,"titleFontWeight":"normal","titleColor":"black","titleAngle":0,"titleAlign":"center","titleX":-93,"titleY":-67}}}},
{"data":{"name":"lab"},"mark":{"type":"rect","height":14,"fillOpacity":0,"stroke":"#1a4a9c","strokeWidth":1,"strokeDash":[1,2]},
"encoding":{"x":{"field":"x","type":"quantitative"},"x2":{"field":"xEnd"},"y":{"field":"y","type":"quantitative"}}},
{"data":{"name":"lab"},"mark":{"type":"text","align":"left","baseline":"middle","dx":0,"dy":1,"font":"Liberation Sans","fontSize":13,"fill":"black"},
"encoding":{"x":{"field":"x","type":"quantitative"},"y":{"field":"y","type":"quantitative"},"text":{"field":"label"}}},
{"data":{"name":"sub"},"mark":{"type":"text","align":"center","baseline":"middle","font":"Liberation Sans","fontSize":18,"fill":"black"},
"encoding":{"x":{"field":"x","type":"quantitative"},"y":{"field":"y","type":"quantitative"},"text":{"field":"label"}}}
]}
